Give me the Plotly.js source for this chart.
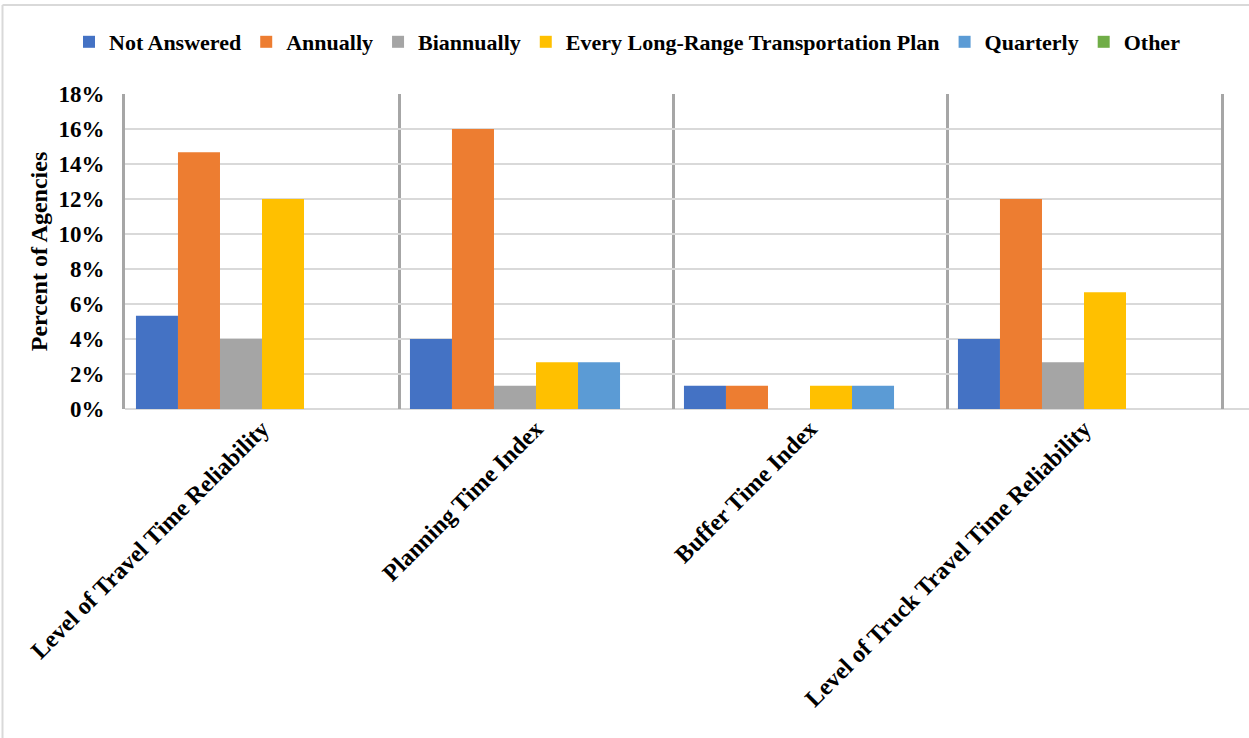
<!DOCTYPE html>
<html>
<head>
<meta charset="utf-8">
<script src="https://cdn.plot.ly/plotly-3.0.1.min.js"></script>
<style>html,body{margin:0;padding:0;background:#fff}#chart{width:1249px;height:738px}</style>
</head>
<body>
<div id="chart"></div>
<script>
const categories = ["Level of Travel Time Reliability", "Planning Time Index", "Buffer Time Index", "Level of Truck Travel Time Reliability"];
const seriesNames = ["Not Answered", "Annually", "Biannually", "Every Long-Range Transportation Plan", "Quarterly", "Other"];
const notAnswered = [5.33, 4.0, 1.33, 4.0];
const annually = [14.67, 16.0, 1.33, 12.0];
const biannually = [4.0, 1.33, 0, 2.67];
const everyLRTP = [12.0, 2.67, 1.33, 6.67];
const quarterly = [0, 2.67, 1.33, 0];
const other = [0, 0, 0, 0];
const yTicks = [0, 2, 4, 6, 8, 10, 12, 14, 16, 18];

const colors = ["#4472C4", "#ED7D31", "#A5A5A5", "#FFC000", "#5B9BD5", "#70AD47"];
const values = [notAnswered, annually, biannually, everyLRTP, quarterly, other];
const fontFam = "Liberation Serif, Times New Roman, serif";

const traces = seriesNames.map((n, i) => ({
  type: "bar", name: n, x: categories, y: values[i],
  marker: {color: colors[i], line: {width: 0}},
  hoverinfo: "skip"
}));

const W = 1096, H = 315;
const layout = {
  width: 1249, height: 738,
  margin: {l: 125, r: 28, t: 94, b: 329, autoexpand: false},
  paper_bgcolor: "#fff", plot_bgcolor: "#fff",
  barmode: "group", bargap: 0.08, bargroupgap: 0,
  font: {family: fontFam, color: "#000", size: 22, weight: "bold"},
  showlegend: true,
  legend: {orientation: "h", x: -56/W, xanchor: "left", xref: "paper",
           y: 1 + 52/H, yref: "paper", yanchor: "middle",
           font: {family: fontFam, size: 22, color: "#000", weight: "bold"},
           itemwidth: 30, traceorder: "normal", bgcolor: "rgba(0,0,0,0)"},
  xaxis: {
    type: "category", tickson: "boundaries", showgrid: true, gridcolor: "#A6A6A6", gridwidth: 3,
    ticks: "", tickangle: -45, showline: false,
    tickfont: {family: fontFam, size: 24, color: "#000", weight: "bold"},
    range: [-0.5, 3.5], fixedrange: true
  },
  yaxis: {
    range: [0, 18], tickvals: yTicks, ticktext: yTicks.map(v => v + "%"),
    showgrid: true, gridcolor: "#D9D9D9", gridwidth: 2, zeroline: false,
    showline: true, linecolor: "#A6A6A6", linewidth: 3, mirror: true,
    ticks: "", ticklabelstandoff: 13, tickfont: {family: fontFam, size: 23, color: "#000", weight: "bold"},
    title: {text: "Percent of Agencies", font: {family: fontFam, size: 24, color: "#000", weight: "bold"}, standoff: 5},
    fixedrange: true
  },
  shapes: [
    {type: "line", xref: "paper", yref: "paper", x0: 0, x1: 1 + 28/W, y0: 0, y1: 0,
     line: {color: "#D9D9D9", width: 2}, layer: "below"},
    {type: "line", xref: "paper", yref: "paper", x0: -122.5/W, x1: -122.5/W, y0: -329/H, y1: 1 + 89/H,
     line: {color: "#D9D9D9", width: 2}},
    {type: "line", xref: "paper", yref: "paper", x0: -122.5/W, x1: 1 + 28/W, y0: 1 + 89/H, y1: 1 + 89/H,
     line: {color: "#D9D9D9", width: 2}}
  ]
};

Plotly.newPlot("chart", traces, layout, {displayModeBar: false, staticPlot: true});
</script>
</body>
</html>
